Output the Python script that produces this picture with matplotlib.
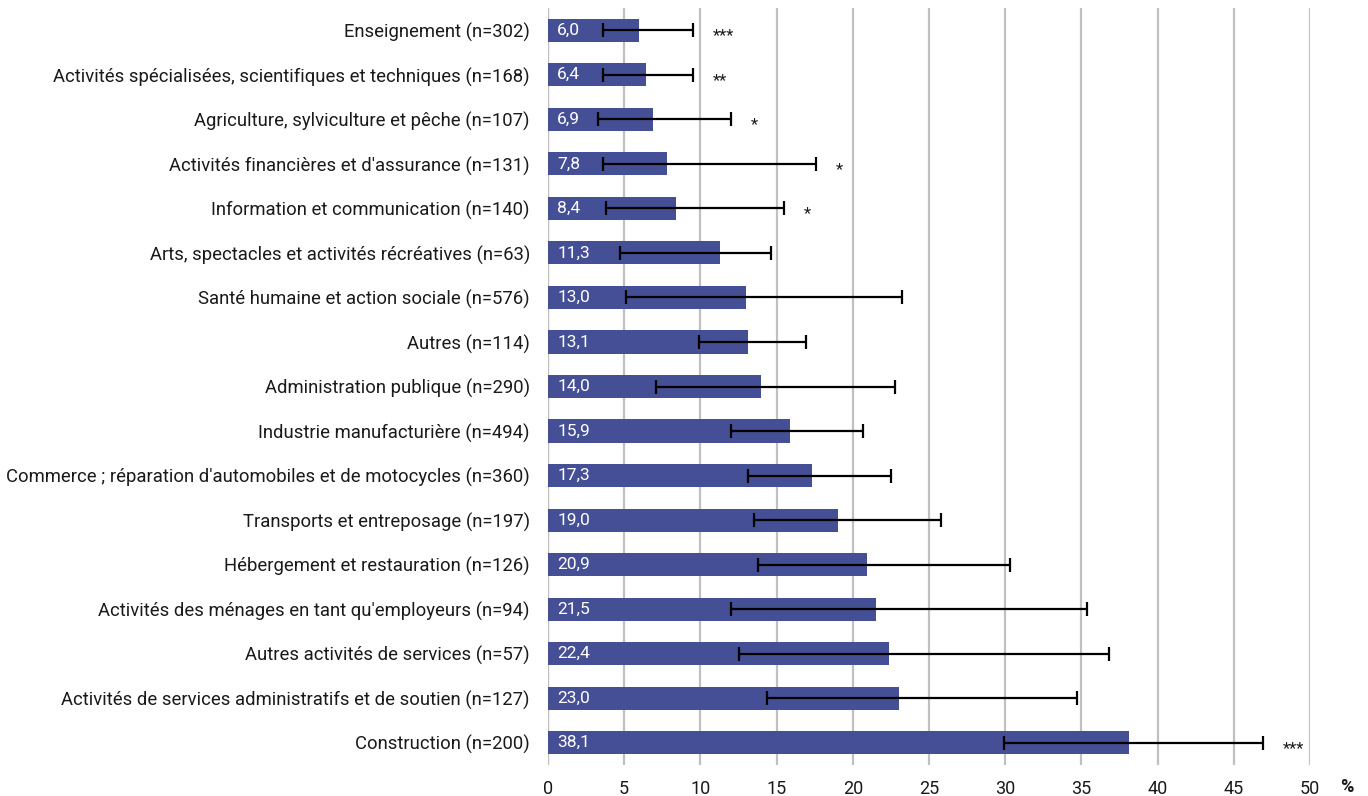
import matplotlib
matplotlib.use('Agg')
import matplotlib.pyplot as plt
import numpy as np

plt.rcParams['font.family'] = ['Roboto', 'DejaVu Sans']

BAR = '#454F96'
GRID = '#C0C0C0'
TXT = '#1A1A1A'

categories = [
    'Enseignement (n=302)',
    'Activités spécialisées, scientifiques et techniques (n=168)',
    'Agriculture, sylviculture et pêche (n=107)',
    "Activités financières et d'assurance (n=131)",
    'Information et communication (n=140)',
    'Arts, spectacles et activités récréatives (n=63)',
    'Santé humaine et action sociale (n=576)',
    'Autres (n=114)',
    'Administration publique (n=290)',
    'Industrie manufacturière (n=494)',
    "Commerce ; réparation d'automobiles et de motocycles (n=360)",
    'Transports et entreposage (n=197)',
    'Hébergement et restauration (n=126)',
    "Activités des ménages en tant qu'employeurs (n=94)",
    'Autres activités de services (n=57)',
    'Activités de services administratifs et de soutien (n=127)',
    'Construction (n=200)',
]
values = [6.0, 6.4, 6.9, 7.8, 8.4, 11.3, 13.0, 13.1, 14.0, 15.9, 17.3, 19.0, 20.9, 21.5, 22.4, 23.0, 38.1]
ci_low = [3.6, 3.6, 3.3, 3.6, 3.8, 4.7, 5.1, 9.9, 7.1, 12.0, 13.1, 13.5, 13.8, 12.0, 12.5, 14.4, 29.9]
ci_high = [9.5, 9.5, 12.0, 17.6, 15.5, 14.6, 23.2, 16.9, 22.8, 20.7, 22.5, 25.8, 30.3, 35.4, 36.8, 34.7, 46.9]
signif = ['***', '**', '*', '*', '*', '', '', '', '', '', '', '', '', '', '', '', '***']

fig = plt.figure(figsize=(13.68, 7.96), dpi=100)
ax = fig.add_axes([548/1368, 1-765/796, (1310-548)/1368, (765-8)/796])

y = np.arange(len(categories))
vals = np.array(values)
lo = np.array(ci_low)
hi = np.array(ci_high)

ax.barh(y, vals, height=0.52, color=BAR, zorder=2)
ax.errorbar(vals, y, xerr=[vals-lo, hi-vals], fmt='none', ecolor='black',
            elinewidth=1.6, capsize=5, capthick=1.6, zorder=3)

for i, v in enumerate(values):
    ax.text(0.6, i, f'{v:.1f}'.replace('.', ','), ha='left', va='center',
            fontsize=12.5, color='white', zorder=4)
    if signif[i]:
        ax.text(hi[i] + 1.3, i + 0.12, signif[i], ha='left', va='center',
                fontsize=12, color=TXT, zorder=4)

ax.set_xlim(0, 50)
ax.set_ylim(len(categories) - 0.5, -0.5)
ax.set_xticks(np.arange(0, 51, 5))
ax.set_yticks(y)
ax.set_yticklabels(categories)
ax.tick_params(axis='y', length=0, pad=13, labelsize=13.3, labelcolor=TXT)
ax.tick_params(axis='x', length=0, pad=11, labelsize=13, labelcolor=TXT)
ax.xaxis.grid(True, color=GRID, linewidth=1.6, zorder=0)
ax.set_axisbelow(True)
for s in ax.spines.values():
    s.set_visible(False)
ax.axvline(0, color=GRID, linewidth=1.6, zorder=1)

fig.text(1347/1368, 1-787/796, '%', ha='center', va='center', fontsize=13,
         fontweight='bold', color=TXT)

fig.savefig('out.png', dpi=100, facecolor='white')
